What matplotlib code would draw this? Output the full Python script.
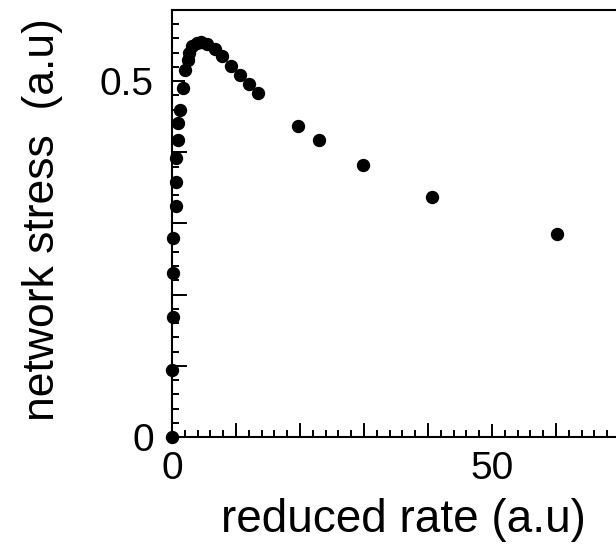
import matplotlib
matplotlib.use("Agg")
import matplotlib.pyplot as plt
from matplotlib.ticker import MultipleLocator, FixedFormatter, FixedLocator

plt.rcParams['font.family'] = ['Liberation Sans', 'DejaVu Sans']

# values
rate = [0, 0.05, 0.1, 0.15, 0.2, 0.6, 0.6, 0.6, 1.0, 1.0, 1.25, 1.7, 2.0, 2.45, 2.7,
        3.1, 3.85, 4.5, 5.4, 6.7, 7.8, 9.2, 10.6, 12.1, 13.5,
        19.7, 23.0, 29.8, 40.7, 60.2]
stress = [0, 0.094, 0.168, 0.230, 0.279, 0.324, 0.358, 0.392, 0.418, 0.441, 0.460, 0.490,
          0.515, 0.530, 0.540, 0.550, 0.553, 0.555, 0.552, 0.545, 0.535, 0.522, 0.509,
          0.496, 0.483, 0.437, 0.418, 0.382, 0.337, 0.285]

xticks = [0, 50]
xticklabels = ['0', '50']
yticks = [0, 0.5]
yticklabels = ['0', '0.5']

fig = plt.figure(figsize=(6.16, 5.52), dpi=100)
ax = fig.add_axes([172 / 616, 115 / 552, 640 / 616, 427 / 552])

ax.plot(rate, stress, 'o', color='black', markersize=8.6, clip_on=False, zorder=5)

ax.set_xlim(0, 100)
ax.set_ylim(0, 0.6)

ax.xaxis.set_major_locator(FixedLocator(xticks))
ax.xaxis.set_major_formatter(FixedFormatter(xticklabels))
ax.yaxis.set_major_locator(FixedLocator(yticks))
ax.yaxis.set_major_formatter(FixedFormatter(yticklabels))
ax.xaxis.set_minor_locator(MultipleLocator(2))
ax.yaxis.set_minor_locator(MultipleLocator(0.02))

# extra unlabeled long ticks every 10 / 0.1
for v in range(10, 100, 10):
    if v != 50:
        ax.axvline(v, ymin=0, ymax=13 / 427, color='black', lw=1.4)
for v in [0.1, 0.2, 0.3, 0.4]:
    ax.axhline(v, xmin=0, xmax=14 / 640, color='black', lw=1.4)

ax.tick_params(which='both', direction='in', width=1.4, top=False, right=False)
ax.tick_params(which='major', length=9.5, labelsize=28)
ax.tick_params(which='minor', length=5)
ax.tick_params(axis='x', which='major', pad=10)
ax.tick_params(axis='y', which='major', pad=13)

for s in ['left', 'bottom', 'top']:
    ax.spines[s].set_linewidth(1.5)
ax.spines['right'].set_visible(False)

ax.set_xlabel('reduced rate (a.u)', fontsize=33)
ax.set_ylabel('network stress  (a.u)', fontsize=32)
ax.xaxis.set_label_coords(0.362, -0.143)
ax.yaxis.set_label_coords(-0.17, 0.51)

fig.savefig('out.png', dpi=100)
